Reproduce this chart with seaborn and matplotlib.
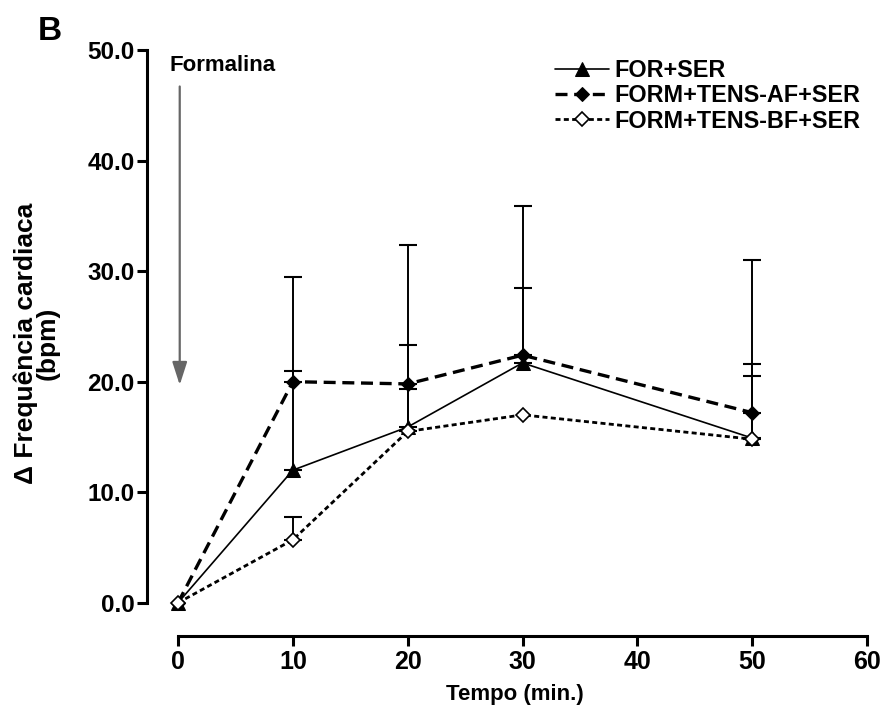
import matplotlib
matplotlib.use("Agg")
import matplotlib.pyplot as plt
import seaborn as sns
import numpy as np
import pandas as pd

# ---- data ----
tempo = [0, 10, 20, 30, 50]
for_ser = [0.0, 12.0, 15.9, 21.7, 14.9]
for_ser_err = [0.0, 9.0, 7.4, 6.8, 6.7]
af_ser = [0.0, 20.0, 19.8, 22.4, 17.2]
af_ser_err = [0.0, 9.5, 12.6, 13.5, 13.8]
bf_ser = [0.0, 5.7, 15.5, 17.0, 14.8]
bf_ser_err = [0.0, 2.1, 3.8, 0.0, 5.7]
labels = ["FOR+SER", "FORM+TENS-AF+SER", "FORM+TENS-BF+SER"]
yticks = [0, 10, 20, 30, 40, 50]
xticks = [0, 10, 20, 30, 40, 50, 60]

sns.set_style("white")
plt.rcParams["font.family"] = ["Liberation Sans", "DejaVu Sans"]
plt.rcParams["font.weight"] = "bold"
plt.rcParams["text.color"] = "black"
plt.rcParams["axes.labelcolor"] = "black"
plt.rcParams["xtick.color"] = "black"
plt.rcParams["ytick.color"] = "black"

fig = plt.figure(figsize=(8.85, 7.11), dpi=100)
ax = fig.add_axes([147/885, 1-636/711, (867-147)/885, (636-50)/711])

styles = [
    dict(linestyle="-", lw=1.2, marker="^", ms=9.5, mfc="black", mec="black"),
    dict(linestyle=(0, (3.6, 2.0)), lw=2.4, marker="D", ms=7.5, mfc="black", mec="black"),
    dict(linestyle=(0, (1.8, 1.2)), lw=2.0, marker="D", ms=7.0, mfc="white", mec="black", mew=1.2),
]
series = [for_ser, af_ser, bf_ser]
errs = [for_ser_err, af_ser_err, bf_ser_err]

for lab, vals, err, st in zip(labels, series, errs, styles):
    df = pd.DataFrame({"t": tempo, "v": vals})
    sns.lineplot(data=df, x="t", y="v", ax=ax, color="black", label=lab,
                 zorder=3, **st)
    e = np.array(err)
    mask = e > 0
    ax.errorbar(np.array(tempo)[mask], np.array(vals)[mask],
                yerr=[np.zeros(mask.sum()), e[mask]], fmt="none",
                ecolor="black", elinewidth=1.4, capsize=6.5, capthick=1.5, zorder=2)

ax.set_xlim(-2.7, 60)
ax.set_ylim(-3, 50)
ax.set_xticks(xticks)
ax.set_yticks(yticks)
ax.set_xticklabels([str(x) for x in xticks], fontsize=18, fontweight="bold")
ax.set_yticklabels([f"{y:.1f}" for y in yticks], fontsize=17.5, fontweight="bold")
for s in ["top", "right"]:
    ax.spines[s].set_visible(False)
for s in ["left", "bottom"]:
    ax.spines[s].set_linewidth(2.2)
    ax.spines[s].set_color("black")
ax.spines["left"].set_bounds(0, 50)
ax.spines["bottom"].set_bounds(0, 60)
ax.tick_params(axis="both", direction="out", length=7, width=2.2, color="black",
               left=True, bottom=True)
ax.tick_params(axis="y", pad=2)
ax.tick_params(axis="x", pad=3)

ax.set_xlabel("Tempo (min.)", fontsize=16, fontweight="bold")
ax.xaxis.set_label_coords((515-147)/720, (636-684)/586)
ax.set_ylabel("Δ Frequência cardiaca\n(bpm)", fontsize=19, fontweight="bold",
              linespacing=0.9)
ax.yaxis.set_label_coords((60-147)/720, 0.5)

# Formalina arrow
ax.annotate("", xy=(0.15, 19.7), xytext=(0.15, 46.7),
            arrowprops=dict(arrowstyle="-|>,head_width=0.45,head_length=1.4",
                            color="#666666", lw=1.6, shrinkA=0, shrinkB=0))
ax.text(-0.7, 48.1, "Formalina", fontsize=16, fontweight="bold", ha="left", va="baseline")

fig.text(50/885, 1-40/711, "B", fontsize=24, fontweight="bold", ha="center", va="baseline")

leg = ax.legend(loc="upper left", bbox_to_anchor=(555/885, 1-59/711),
                bbox_transform=fig.transFigure, frameon=False, fontsize=16.8,
                handlelength=2.3, handletextpad=0.25, labelspacing=0.1,
                borderpad=0, borderaxespad=0)
for t in leg.get_texts():
    t.set_fontweight("bold")

fig.savefig("out.png", dpi=100)
